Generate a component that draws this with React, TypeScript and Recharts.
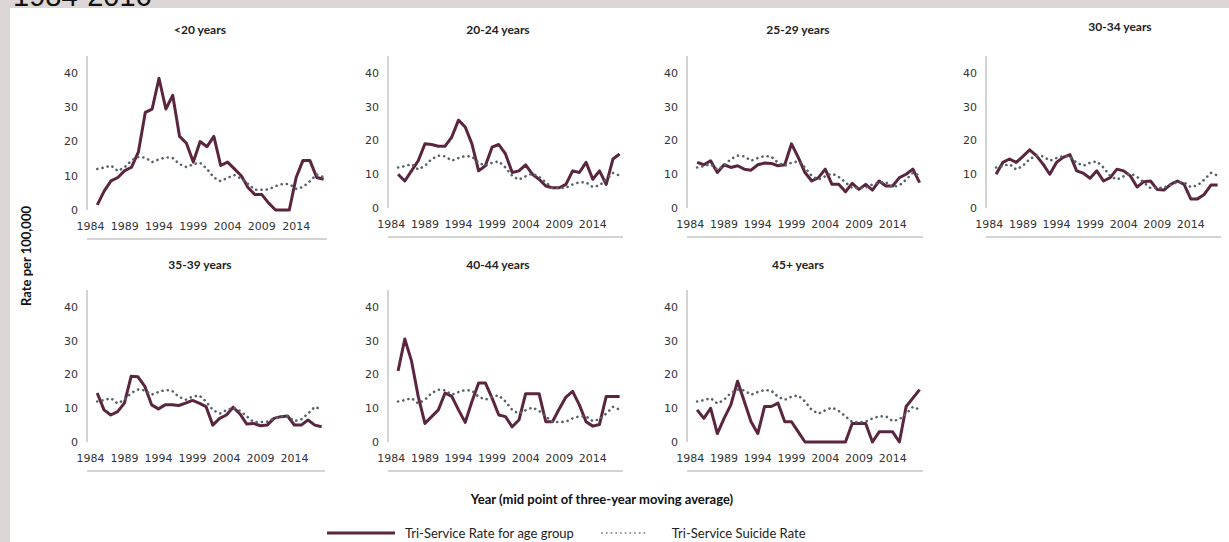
import { LineChart, Line, XAxis, YAxis } from 'recharts';

// mid point years of the three-year moving average
const years = [
  1985, 1986, 1987, 1988, 1989, 1990, 1991, 1992, 1993, 1994, 1995, 1996, 1997, 1998, 1999, 2000, 2001,
  2002, 2003, 2004, 2005, 2006, 2007, 2008, 2009, 2010, 2011, 2012, 2013, 2014, 2015, 2016, 2017, 2018,
];

const triServiceRate = [
  12, 12.4, 13, 11.4, 12.5, 14.5, 15.5, 15.3, 14, 14.8, 15.4, 15.2, 13.4, 12.5, 13.4, 13.8, 12,
  9.5, 8.4, 9.4, 10.2, 9.2, 7.6, 5.9, 5.9, 6, 7, 7.6, 7.6, 6.2, 6.7, 8.4, 10.4, 9.6,
];

const under20 = [
  1.5, 5.5, 8.5, 9.5, 11.5, 12.5, 17, 28.5, 29.5, 38.5, 29.5, 33.5, 21.5, 19.5, 14, 20, 18.5,
  21.5, 13, 14, 12, 10, 6.5, 4.5, 4.5, 2, 0, 0, 0, 9.5, 14.5, 14.5, 9.5, 9,
];
const age20to24 = [
  10, 8, 11, 14, 19, 18.8, 18.3, 18.3, 21, 26, 24, 19, 11, 12.5, 18, 18.8, 16,
  10.5, 11, 12.8, 10, 8.5, 6.5, 6, 6, 7, 11, 10.5, 13.5, 8.5, 11, 7, 14.5, 16,
];
const age25to29 = [
  13.5, 12.8, 14, 10.5, 12.8, 12, 12.5, 11.5, 11.2, 12.8, 13.3, 13.2, 12.5, 12.8, 19, 15, 10.5,
  8, 9, 11.5, 7, 7, 4.8, 7.3, 5.5, 7, 5.3, 8, 6.5, 6.5, 9, 10, 11.5, 7.5,
];
const age30to34 = [
  10, 13.5, 14.5, 13.5, 15.3, 17.2, 15.5, 13, 10, 13.5, 15, 15.8, 11, 10.3, 8.8, 11, 8,
  9, 11.5, 11, 9.5, 6.2, 7.8, 8, 5.5, 5.3, 7, 8, 7, 2.7, 2.7, 4, 6.8, 6.8,
];
const age35to39 = [
  14.5, 9.5, 8, 9, 11.5, 19.5, 19.3, 16.5, 11, 9.8, 11, 11, 10.8, 11.5, 12.3, 11.5, 10.5,
  5, 7, 8, 10.3, 8.3, 5.3, 5.5, 4.8, 5, 7, 7.5, 7.7, 5, 5, 6.5, 5, 4.5,
];
const age40to44 = [
  21, 30.5, 24, 13.5, 5.5, 7.5, 9.5, 14.5, 13.5, 9.5, 5.8, 12, 17.5, 17.5, 13, 8, 7.5,
  4.5, 6.5, 14.3, 14.3, 14.3, 6, 6, 9.8, 13.3, 15, 11, 6, 4.7, 5.2, 13.5, 13.5, 13.5,
];
const age45plus = [
  9.5, 7, 10, 2.5, 7, 11, 18, 12, 6, 2.5, 10.5, 10.5, 11.5, 6, 6, 3, 0,
  0, 0, 0, 0, 0, 0, 5.5, 5.5, 5.5, 0, 3, 3, 3, 0, 10.5, 13, 15.5,
];

const groupTitles = ['<20 years', '20-24 years', '25-29 years', '30-34 years', '35-39 years', '40-44 years', '45+ years'];
const groupSeries = [under20, age20to24, age25to29, age30to34, age35to39, age40to44, age45plus];

const yearLabels = [1984, 1989, 1994, 1999, 2004, 2009, 2014];
const rateTicks = [0, 10, 20, 30, 40];
// category boundaries (one tick mark between every year)
const boundaryTicks = Array.from({ length: 36 }, (_, i) => 1983.5 + i);

const GROUP_COLOR = '#5b2540';
const ALL_COLOR = '#59626b';
const AXIS_COLOR = '#a8a8a8';
const TICK_STYLE = { fontSize: 11, fill: '#333', fontFamily: 'DejaVu Sans' };

// plot rectangles in page pixels
const layout = [
  { left: 87, right: 327, top: 56, bottom: 210, titleX: 200, titleY: 30 },
  { left: 388, right: 623, top: 56, bottom: 208, titleX: 498, titleY: 30 },
  { left: 687, right: 923, top: 56, bottom: 208, titleX: 798, titleY: 30 },
  { left: 986, right: 1221, top: 56, bottom: 208, titleX: 1120, titleY: 27 },
  { left: 87, right: 325, top: 290, bottom: 442, titleX: 200, titleY: 265 },
  { left: 388, right: 623, top: 290, bottom: 442, titleX: 498, titleY: 265 },
  { left: 687, right: 923, top: 290, bottom: 442, titleX: 798, titleY: 265 },
];

type Box = (typeof layout)[number];

function Panel({ title, values, box }: { title: string; values: number[]; box: Box }) {
  const yw = 50;
  const mt = 4;
  const width = yw + (box.right - box.left) + 2;
  const height = mt + (box.bottom - box.top) + 30;
  const data = years.map((year, i) => ({ year, group: values[i], all: triServiceRate[i] }));

  return (
    <>
      <div
        style={{
          position: 'absolute',
          left: box.titleX - 70,
          width: 140,
          top: box.titleY - 8,
          textAlign: 'center',
          font: 'bold 12px Lato',
          color: '#222',
        }}
      >
        {title}
      </div>
      <div style={{ position: 'absolute', left: box.left - yw, top: box.top - mt }}>
        <LineChart width={width} height={height} data={data} margin={{ top: mt, right: 2, left: 0, bottom: 0 }}>
          <XAxis
            xAxisId="marks"
            dataKey="year"
            type="number"
            domain={[1983.5, 2018.5]}
            ticks={boundaryTicks}
            interval={0}
            tick={false}
            tickSize={4}
            height={1}
            axisLine={{ stroke: AXIS_COLOR }}
            tickLine={{ stroke: AXIS_COLOR }}
          />
          <XAxis
            xAxisId="labels"
            dataKey="year"
            type="number"
            domain={[1983.5, 2018.5]}
            ticks={yearLabels}
            interval={0}
            axisLine={false}
            tickLine={false}
            tickSize={0}
            tickMargin={12}
            height={29}
            tick={TICK_STYLE}
          />
          <YAxis
            domain={[0, 45]}
            ticks={rateTicks}
            interval={0}
            width={yw}
            tickLine={false}
            tickSize={0}
            tickMargin={9}
            axisLine={{ stroke: AXIS_COLOR }}
            tick={TICK_STYLE}
          />
          <Line
            xAxisId="marks"
            dataKey="group"
            stroke={GROUP_COLOR}
            strokeWidth={3}
            strokeLinejoin="round"
            dot={false}
            activeDot={false}
            isAnimationActive={false}
          />
          <Line
            xAxisId="marks"
            dataKey="all"
            stroke={ALL_COLOR}
            strokeWidth={2.6}
            strokeDasharray="0.1 5.2"
            strokeLinecap="round"
            dot={false}
            activeDot={false}
            isAnimationActive={false}
          />
        </LineChart>
      </div>
    </>
  );
}

export default function App() {
  return (
    <div
      style={{
        position: 'fixed',
        left: 0,
        top: 0,
        width: 1229,
        height: 542,
        overflow: 'hidden',
        background: '#ddd6d6',
        fontFamily: 'Lato',
      }}
    >
      <svg style={{ position: 'absolute', left: 0, top: 0 }} width={300} height={10}>
        <text x={13} y={6} fontSize={29} fontFamily="Liberation Sans" fill="#111">
          1984-2016
        </text>
      </svg>
      <div style={{ position: 'absolute', left: 10, top: 8, right: 0, bottom: 0, background: '#fff' }} />

      {groupTitles.map((title, i) => (
        <Panel key={title} title={title} values={groupSeries[i]} box={layout[i]} />
      ))}

      <div
        style={{
          position: 'absolute',
          left: 27 - 70,
          top: 256 - 9,
          width: 140,
          height: 18,
          lineHeight: '18px',
          textAlign: 'center',
          transform: 'rotate(-90deg)',
          font: 'bold 13px Lato',
          color: '#111',
        }}
      >
        Rate per 100,000
      </div>

      <div
        style={{
          position: 'absolute',
          left: 602 - 200,
          width: 400,
          top: 491,
          textAlign: 'center',
          font: 'bold 13px Lato',
          color: '#111',
        }}
      >
        Year (mid point of three-year moving average)
      </div>

      <div style={{ position: 'absolute', left: 327, top: 525, display: 'flex', alignItems: 'center', font: '13px Lato', color: '#222' }}>
        <svg width={70} height={16}>
          <line x1={0} y1={8} x2={68} y2={8} stroke={GROUP_COLOR} strokeWidth={3} />
        </svg>
        <span style={{ marginLeft: 8 }}>Tri-Service Rate for age group</span>
        <svg width={50} height={16} style={{ marginLeft: 26 }}>
          <line x1={2} y1={8} x2={48} y2={8} stroke="#8f969c" strokeWidth={2} strokeDasharray="0.1 4.6" strokeLinecap="round" />
        </svg>
        <span style={{ marginLeft: 22 }}>Tri-Service Suicide Rate</span>
      </div>
    </div>
  );
}
